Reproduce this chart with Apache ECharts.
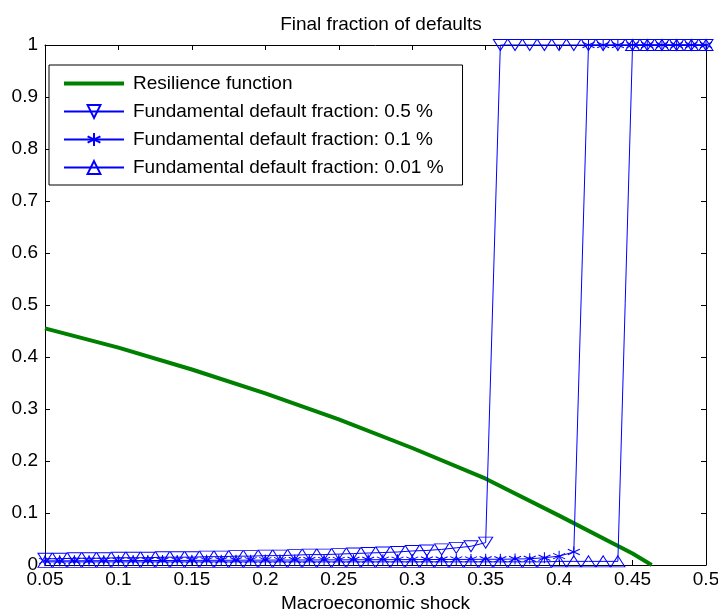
<!DOCTYPE html>
<html>
<head>
<meta charset="utf-8">
<script src="https://cdn.jsdelivr.net/npm/echarts@6/dist/echarts.min.js"></script>
<style>
html,body{margin:0;padding:0;background:#fff;}
#chart{width:718px;height:614px;}
</style>
</head>
<body>
<div id="chart"></div>
<script>
// Shock values shared by the three blue series
var shockX = [0.05,0.06,0.07,0.08,0.09,0.10,0.11,0.12,0.13,0.14,0.15,0.16,0.17,0.18,0.19,0.20,0.21,0.22,0.23,0.24,0.25,0.26,0.27,0.28,0.29,0.30,0.31,0.32,0.33,0.34,0.35,0.36,0.37,0.38,0.39,0.40,0.41,0.42,0.43,0.44,0.45,0.46,0.47,0.48,0.49,0.50];

// Fundamental default fraction 0.5 %
var frac05 = [0.012,0.012,0.013,0.013,0.013,0.014,0.014,0.014,0.015,0.015,0.015,0.016,0.016,0.017,0.017,0.018,0.018,0.019,0.020,0.020,0.021,0.022,0.023,0.024,0.025,0.027,0.028,0.030,0.033,0.036,0.043,
  1,1,1,1,1,1,1,1,1,1,1,1,1,1,1];
// Fundamental default fraction 0.1 %
var frac01 = [0.0080,0.0080,0.0081,0.0082,0.0083,0.0084,0.0085,0.0086,0.0087,0.0088,0.0089,0.0090,0.0091,0.0092,0.0093,0.0094,
  0.0095,0.0096,0.0097,0.0098,0.0099,0.0100,0.0101,0.0102,0.0103,0.0104,0.0105,0.0106,0.0107,0.0108,0.0110,
  0.0110,0.0115,0.0120,0.0140,0.0170,0.0250,
  1,1,1,1,1,1,1,1,1];
// Fundamental default fraction 0.01 %
var frac001 = [0.006,0.006,0.006,0.006,0.006,0.006,0.006,0.006,0.006,0.006,0.006,0.006,0.006,0.006,0.006,0.006,0.006,0.006,0.006,0.006,
  0.006,0.006,0.006,0.006,0.006,0.006,0.006,0.006,0.006,0.006,0.006,0.006,0.006,0.006,0.006,0.007,0.007,0.007,0.007,0.007,
  1,1,1,1,1,1];

// Resilience function
var resX = [0.05,0.10,0.15,0.20,0.25,0.30,0.35,0.40,0.45,0.463];
var resY = [0.455,0.418,0.376,0.330,0.280,0.225,0.166,0.095,0.022,0];

var seriesNames = ['Resilience function','Fundamental default fraction: 0.5 %','Fundamental default fraction: 0.1 %','Fundamental default fraction: 0.01 %'];
var xTicks = ['0.05','0.1','0.15','0.2','0.25','0.3','0.35','0.4','0.45','0.5'];

function pairs(xa, ya){ return xa.map(function(x,i){ return [x, ya[i]]; }); }

var FONT = 'Liberation Sans, Arial, sans-serif';
var FS = 19;
var BLUE = '#0000ff';
var GREEN = '#008000';
var asterisk = 'path://M0,-5L0,5M-4.33,-2.5L4.33,2.5M-4.33,2.5L4.33,-2.5';

function blueSeries(name, data, symbol, rotate, size){
  return {
    name: name, type: 'line', data: data, clip: false,
    symbol: symbol, symbolSize: size, symbolRotate: rotate,
    showAllSymbol: true,
    lineStyle: {color: BLUE, width: 1},
    itemStyle: {color: 'rgba(0,0,0,0)', borderColor: BLUE, borderWidth: 1},
    emphasis: {disabled: true},
    animation: false, z: 3
  };
}

var axisCommon = {
  axisLine: {show: true, onZero: false, lineStyle: {color: '#000', width: 1}},
  axisTick: {show: true, inside: true, length: 5, lineStyle: {color: '#000'}},
  splitLine: {show: false}
};

var chart = echarts.init(document.getElementById('chart'), null, {renderer: 'canvas'});
chart.setOption({
  backgroundColor: '#fff',
  animation: false,
  textStyle: {fontFamily: FONT},
  title: {
    text: 'Final fraction of defaults',
    left: 376, top: 10, textAlign: 'center',
    textStyle: {fontFamily: FONT, fontSize: FS, fontWeight: 'normal', color: '#000'}
  },
  grid: {left: 45, right: 12, top: 45, bottom: 49, containLabel: false, outerBoundsMode: 'none'},
  legend: {
    data: [
      {name: seriesNames[0], lineStyle: {width: 4}},
      seriesNames[1], seriesNames[2], seriesNames[3]
    ],
    orient: 'vertical', left: 49, top: 65,
    itemWidth: 60, itemHeight: 16, itemGap: 9,
    padding: [9, 19, 8, 13],
    borderColor: '#000', borderWidth: 1, backgroundColor: '#fff',
    textStyle: {fontFamily: FONT, fontSize: FS, color: '#000', lineHeight: 16, padding: [0, 0, 0, 4]},
    selectedMode: false
  },
  xAxis: [
    Object.assign({
      type: 'value', min: 0.05, max: 0.5, interval: 0.05, position: 'bottom',
      name: 'Macroeconomic shock', nameLocation: 'middle', nameGap: 29,
      nameTextStyle: {fontFamily: FONT, fontSize: FS, color: '#000'},
      axisLabel: {fontFamily: FONT, fontSize: FS, color: '#000', margin: 5,
        formatter: function(v){ var i = Math.round((v - 0.05) / 0.05); return xTicks[i] || ''; }}
    }, axisCommon),
    Object.assign({
      type: 'value', min: 0.05, max: 0.5, interval: 0.05, position: 'top',
      axisLabel: {show: false}
    }, axisCommon)
  ],
  yAxis: [
    Object.assign({
      type: 'value', min: 0, max: 1, interval: 0.1, position: 'left',
      axisLabel: {fontFamily: FONT, fontSize: FS, color: '#000', margin: 7,
        formatter: function(v){ return String(Math.round(v*10)/10); }}
    }, axisCommon),
    Object.assign({
      type: 'value', min: 0, max: 1, interval: 0.1, position: 'right',
      axisLabel: {show: false}
    }, axisCommon)
  ],
  series: [
    {
      name: seriesNames[0], type: 'line', data: pairs(resX, resY),
      symbol: 'none', clip: true,
      lineStyle: {color: GREEN, width: 4},
      itemStyle: {color: 'rgba(0,0,0,0)', borderWidth: 0},
      emphasis: {disabled: true}, z: 2
    },
    blueSeries(seriesNames[1], pairs(shockX, frac05), 'triangle', 180, [14, 11]),
    blueSeries(seriesNames[2], pairs(shockX, frac01), asterisk, 0, [12, 11]),
    blueSeries(seriesNames[3], pairs(shockX, frac001), 'triangle', 0, [14, 11])
  ]
});
</script>
</body>
</html>
